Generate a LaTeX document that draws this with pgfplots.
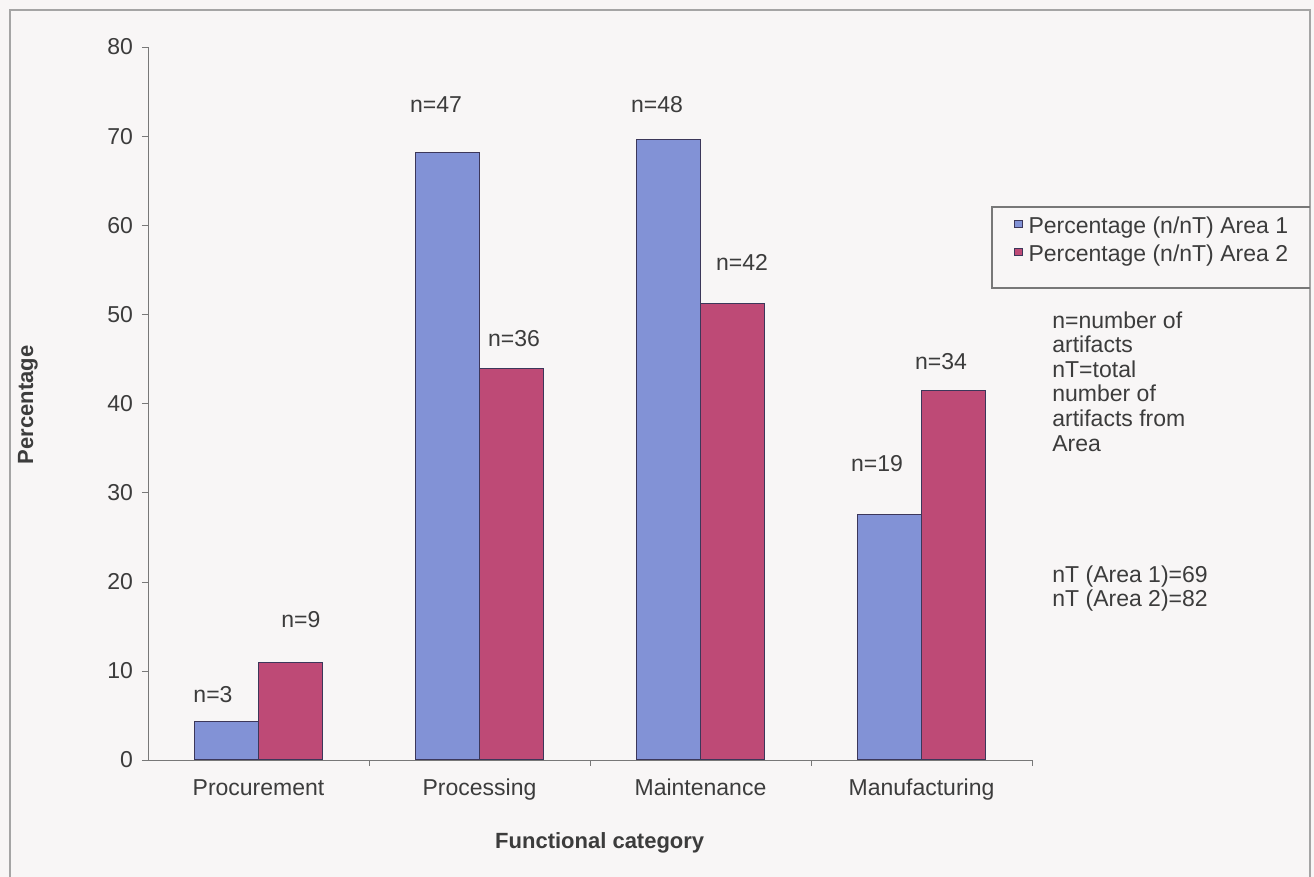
\documentclass[border=0pt]{standalone}
\usepackage{pgfplots}
\pgfplotsset{compat=1.18}
\usepackage{fontspec}
\setmainfont{Liberation Sans}
\definecolor{bgc}{RGB}{248,246,246}
\definecolor{framec}{RGB}{165,165,165}
\definecolor{axc}{RGB}{120,120,120}
\definecolor{txt}{RGB}{60,60,60}
\definecolor{bluebar}{RGB}{130,146,214}
\definecolor{redbar}{RGB}{190,74,118}
\definecolor{edgec}{RGB}{60,55,90}
\begin{document}
\begin{tikzpicture}[font=\fontsize{11.5}{13}\selectfont, every node/.style={text=txt}]
\path[use as bounding box, fill=bgc] (0,0) rectangle (657pt,438.5pt);
\draw[framec, line width=0.8pt] (5pt,-1pt) -- (5pt,433.5pt) -- (655pt,433.5pt) -- (655pt,-1pt);
\draw[axc, line width=0.6pt] (655pt,294.5pt) -- (496pt,294.5pt) -- (496pt,335pt) -- (655pt,335pt);
\begin{axis}[
  at={(74pt,58.5pt)}, anchor=south west,
  scale only axis, width=442pt, height=356.5pt,
  xmin=-0.5, xmax=3.5, ymin=0, ymax=80,
  axis lines=left, axis line style={draw=axc, -},
  ybar=0pt, bar width=32pt,
  xtick={0,1,2,3},
  xticklabels={Procurement,Processing,Maintenance,Manufacturing},
  major x tick style={draw=none},
  minor xtick={0.5,1.5,2.5,3.5},
  minor x tick style={draw=axc},
  ytick={0,10,...,80},
  y tick style={draw=axc},
  tick align=outside,
  major tick length=3pt, minor tick length=3pt,
  tick label style={text=txt, font=\fontsize{11.5}{13}\selectfont},
  /pgf/number format/assume math mode=true,
  xticklabel style={yshift=-2pt, text height=9pt, text depth=3pt},
  yticklabel style={xshift=-1pt},
  ylabel={\bfseries Percentage},
  every axis y label/.style={at={(axis description cs:-0.136,0.498)}, rotate=90, anchor=center, font=\fontsize{11}{13}\selectfont},
  xlabel={\bfseries Functional category},
  every axis x label/.style={at={(axis description cs:0.511,-0.116)}, anchor=center, font=\fontsize{11}{13}\selectfont},
  legend style={at={(axis description cs:0.9796,0.7644)}, anchor=north west,
    draw=none, fill=none, inner sep=0pt,
    font=\fontsize{11.5}{13}\selectfont, text=txt,
    row sep=2pt, column sep=0pt,
    nodes={inner sep=0pt, text height=9pt, text depth=3pt}},
  legend cell align=left,
  legend image code/.code={\fill[#1] (0pt,-0.2pt) rectangle (3.6pt,3.4pt);},
  clip=false,
]
\addplot[fill=bluebar, draw=edgec, line width=0.5pt] coordinates {(0,4.35) (1,68.12) (2,69.57) (3,27.54)};
\addplot[fill=redbar, draw=edgec, line width=0.5pt] coordinates {(0,10.98) (1,43.90) (2,51.22) (3,41.46)};
\legend{\hspace{3pt}Percentage (n/nT) Area 1, \hspace{3pt}Percentage (n/nT) Area 2}
\node at (axis cs:-0.206,7.29) {n=3};
\node at (axis cs:0.192,15.7) {n=9};
\node at (axis cs:0.803,73.5) {n=47};
\node at (axis cs:1.156,47.3) {n=36};
\node at (axis cs:1.803,73.5) {n=48};
\node at (axis cs:2.188,55.8) {n=42};
\node at (axis cs:2.799,33.3) {n=19};
\node at (axis cs:3.088,44.7) {n=34};
\end{axis}
\node[anchor=north west, align=left, inner sep=0pt, font=\fontsize{11.5}{12.3}\selectfont] at (526pt,283pt)
  {n=number of\\artifacts\\nT=total\\number of\\artifacts from\\Area};
\node[anchor=north west, align=left, inner sep=0pt, font=\fontsize{11.5}{12.3}\selectfont] at (526pt,156pt)
  {nT (Area 1)=69\\nT (Area 2)=82};
\end{tikzpicture}
\end{document}
